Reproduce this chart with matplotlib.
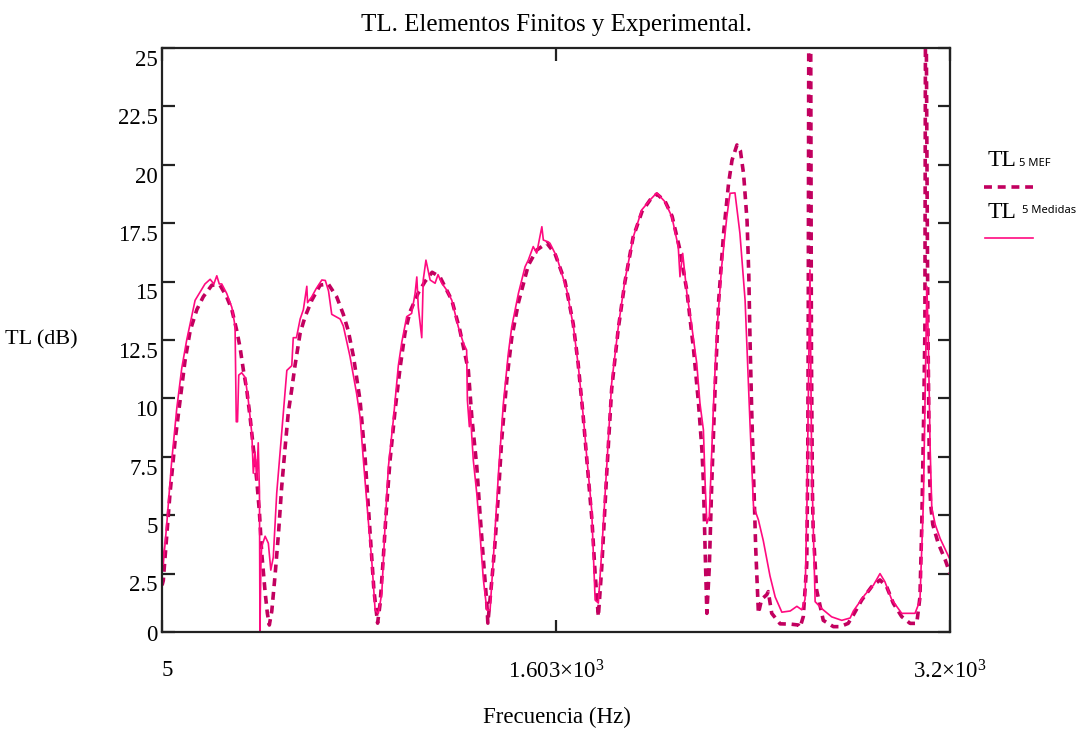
import matplotlib
matplotlib.use('Agg')
import matplotlib.pyplot as plt
import matplotlib.transforms as mtransforms
from matplotlib.lines import Line2D

# TL 5 MEF (finite elements), Hz / dB
freq_mef = [5, 10, 24, 37, 58, 78, 98, 119, 146, 172, 207, 240, 267, 288, 308, 321,
            335, 348, 362, 375, 389, 400, 409, 423, 432, 440, 450, 463, 477, 490, 504,
            517, 531, 544, 565, 585, 612, 646, 679, 713, 740, 760, 781, 794, 808, 828,
            848, 864, 879, 889, 901, 913, 929, 950, 970, 990, 1010, 1043, 1071, 1100,
            1132, 1156, 1180, 1213, 1247, 1261, 1281, 1294, 1308, 1322, 1326, 1342,
            1355, 1369, 1382, 1403, 1423, 1450, 1470, 1490, 1524, 1565, 1598, 1639,
            1672, 1692, 1712, 1728, 1748, 1761, 1774, 1788, 1808, 1828, 1855, 1882,
            1915, 1951, 1984, 2011, 2044, 2073, 2105, 2133, 2160, 2180, 2194, 2200,
            2207, 2214, 2224, 2234, 2248, 2262, 2282, 2302, 2316, 2336, 2350, 2363,
            2377, 2384, 2389, 2396, 2404, 2412, 2423, 2436, 2457, 2463, 2477, 2511,
            2552, 2585, 2592, 2605, 2619, 2623, 2625, 2628, 2634, 2638, 2642, 2645,
            2659, 2686, 2727, 2754, 2787, 2808, 2842, 2882, 2916, 2943, 2970, 3004,
            3038, 3065, 3078, 3085, 3092, 3098, 3101, 3104, 3106, 3108, 3110, 3113,
            3116, 3121, 3130, 3152, 3180, 3200]
tl_mef = [2.0, 2.2, 4.1, 5.9, 8.2, 9.9, 11.6, 12.9, 13.8, 14.35, 14.85, 14.85, 14.35,
          13.8, 12.9, 12.2, 11.2, 10.4, 9.2, 7.9, 6.5, 5.1, 3.4, 1.7, 0.8, 0.3, 0.9,
          2.4, 4.2, 6.2, 7.9, 9.4, 10.4, 11.4, 12.8, 13.5, 14.2, 14.85, 14.9, 14.35,
          13.6, 12.9, 11.8, 10.9, 9.9, 7.5, 4.3, 1.8, 0.38, 1.2, 3.0, 5.0, 7.3, 9.5,
          11.3, 12.8, 13.7, 14.5, 15.0, 15.4, 15.2, 14.7, 14.2, 12.9, 11.2, 9.2, 7.1,
          5.1, 3.1, 1.2, 0.38, 2.2, 3.8, 5.9, 8.2, 10.8, 12.6, 14.1, 14.9, 15.7, 16.35,
          16.65, 16.2, 15.0, 13.2, 11.5, 9.3, 7.3, 4.8, 2.5, 0.66, 2.8, 6.8, 10.4,
          13.0, 15.0, 16.9, 18.0, 18.5, 18.75, 18.45, 17.8, 16.35, 14.6, 12.1, 9.8,
          7.8, 6.4, 3.5, 0.8, 2.8, 6.4, 10.6, 14.2, 17.1, 19.2, 20.2, 20.85, 20.6,
          19.6, 17.6, 15.3, 12.5, 9.4, 6.5, 3.6, 0.8, 1.4, 1.6, 1.73, 0.8, 0.35, 0.34,
          0.3, 0.2, 0.66, 2.9, 7.2, 12.9, 30, 30, 12.0, 6.0, 4.4, 1.8, 0.5, 0.23,
          0.23, 0.37, 0.73, 1.37, 1.94, 2.23, 1.94, 1.23, 0.66, 0.37, 0.37, 1.5, 4.4,
          8.6, 12.9, 30, 25.0, 20.5, 17.0, 13.5, 10.0, 7.0, 5.5, 4.6, 3.8, 3.1, 2.5]

# TL 5 Medidas (measured), Hz / dB
freq_med = [5, 10, 24, 44, 65, 85, 105, 139, 179, 200, 215, 227, 237, 247, 267, 288,
            301, 306, 311, 316, 328, 342, 355, 369, 375, 382, 389, 395, 400, 402, 406,
            409, 423, 436, 446, 456, 470, 490, 511, 531, 537, 550, 565, 578, 592, 595,
            612, 630, 653, 667, 680, 693, 727, 740, 767, 794, 808, 821, 841, 855, 869,
            882, 896, 909, 923, 943, 963, 977, 997, 1017, 1031, 1038, 1044, 1058, 1064,
            1075, 1092, 1112, 1124, 1139, 1159, 1180, 1206, 1227, 1240, 1243, 1251,
            1254, 1261, 1267, 1281, 1294, 1308, 1322, 1335, 1348, 1369, 1389, 1409,
            1423, 1450, 1477, 1490, 1510, 1524, 1545, 1551, 1571, 1578, 1605, 1646,
            1673, 1693, 1713, 1727, 1747, 1761, 1774, 1788, 1808, 1828, 1855, 1882,
            1916, 1950, 1984, 2011, 2044, 2072, 2098, 2105, 2116, 2126, 2133, 2153,
            2173, 2186, 2200, 2207, 2214, 2224, 2240, 2254, 2274, 2295, 2308, 2328,
            2348, 2369, 2389, 2403, 2423, 2443, 2470, 2491, 2518, 2552, 2579, 2599,
            2612, 2620, 2632, 2639, 2653, 2680, 2720, 2761, 2795, 2808, 2855, 2889,
            2916, 2936, 2963, 3004, 3058, 3078, 3092, 3106, 3112, 3119, 3126, 3140,
            3160, 3200]
tl_med = [4.0, 2.9, 4.6, 7.3, 9.6, 11.3, 12.5, 14.2, 14.9, 15.1, 14.9, 15.25, 14.9,
          14.9, 14.5, 13.9, 13.1, 9.0, 9.0, 11.0, 11.1, 10.9, 9.9, 8.5, 6.8, 7.7, 6.5,
          8.1, 6.0, 0.05, 3.0, 3.65, 4.1, 3.8, 2.65, 3.2, 5.95, 8.5, 11.2, 11.4, 12.6,
          12.6, 13.4, 13.8, 14.8, 14.1, 14.35, 14.7, 15.07, 15.05, 14.6, 13.6, 13.4,
          13.1, 11.8, 10.2, 9.2, 7.4, 4.8, 3.1, 0.94, 0.8, 1.66, 4.5, 7.1, 9.1, 11.4,
          12.4, 13.5, 13.64, 14.5, 15.2, 13.9, 12.6, 15.07, 15.92, 15.07, 14.93, 15.3,
          14.94, 14.64, 14.2, 13.07, 12.36, 12.07, 9.93, 8.79, 9.65, 8.36, 7.36, 5.94,
          4.22, 2.23, 0.94, 0.94, 3.08, 6.79, 9.79, 11.93, 13.07, 14.5, 15.64, 15.92,
          16.5, 16.22, 17.35, 16.78, 16.7, 16.64, 16.07, 14.64, 13.07, 11.36, 9.22,
          7.5, 5.22, 1.37, 1.24, 3.51, 7.08, 10.65, 13.07, 15.07, 16.92, 18.07, 18.5,
          18.8, 18.42, 17.78, 16.5, 15.21, 16.21, 15.2, 14.5, 13.07, 11.5, 9.79, 8.65,
          6.37, 4.65, 4.94, 9.5, 12.79, 15.64, 17.78, 18.78, 18.8, 17.07, 14.2, 8.9,
          5.4, 4.8, 3.9, 2.4, 1.5, 0.85, 0.9, 1.1, 0.95, 1.4, 5.6, 15.5, 7.2, 1.3, 1.0,
          0.65, 0.5, 0.6, 0.9, 1.6, 2.0, 2.5, 2.15, 1.4, 0.8, 0.8, 1.35, 5.6, 14.8,
          12.5, 8.0, 5.3, 4.6, 4.0, 3.1]

y_ticks = [0, 2.5, 5, 7.5, 10, 12.5, 15, 17.5, 20, 22.5, 25]
y_tick_labels = ['0', '2.5', '5', '7.5', '10', '12.5', '15', '17.5', '20', '22.5', '25']
x_ticks = [5, 1602.5, 3200]
x_tick_labels = ['5', r'$1.603{\times}10^{3}$', r'$3.2{\times}10^{3}$']

MEF_COLOR = '#C2005F'
MED_COLOR = '#FF0A80'
SERIF = 'Liberation Serif'


def main():
    plt.rcParams['font.family'] = SERIF
    plt.rcParams['mathtext.fontset'] = 'custom'
    plt.rcParams['mathtext.rm'] = SERIF
    plt.rcParams['mathtext.it'] = SERIF
    plt.rcParams['mathtext.default'] = 'regular'
    fig = plt.figure(figsize=(10.89, 7.31), dpi=100)
    ax = fig.add_axes([0.1488, 0.1354, 0.7236, 0.7989])

    ax.plot(freq_mef, tl_mef, color=MEF_COLOR, lw=2.6, ls=(0, (2.2, 1.6)))
    ax.plot(freq_med, tl_med, color=MED_COLOR, lw=1.2)

    ax.set_xlim(5, 3200)
    ax.set_ylim(0, 25)

    for s in ax.spines.values():
        s.set_linewidth(1.6)
        s.set_color('#222222')

    ax.set_yticks(y_ticks)
    ax.set_yticklabels(y_tick_labels, fontsize=16.5)
    ax.tick_params(axis='y', direction='in', length=9, width=1.6, pad=3,
                   right=True, colors='#222222', labelcolor='black')
    ax.set_xticks(x_ticks)
    ax.set_xticklabels(x_tick_labels, fontsize=16.5)
    ax.tick_params(axis='x', direction='in', length=9, width=1.6, pad=20,
                   top=True, colors='#222222', labelcolor='black')

    # Mathcad puts the y labels slightly below their ticks
    for lbl in ax.get_yticklabels():
        dy = -1 / 72 if lbl.get_text() == '0' else -7 / 72
        lbl.set_transform(lbl.get_transform() +
                          mtransforms.ScaledTranslation(0, dy, fig.dpi_scale_trans))
    xl = ax.get_xticklabels()
    xl[0].set_ha('left')

    fig.text(0.511, 0.966, 'TL. Elementos Finitos y Experimental.', ha='center',
             va='center', fontsize=18)
    fig.text(0.511, 0.019, 'Frecuencia (Hz)', ha='center', va='center', fontsize=16.5)
    fig.text(0.038, 0.535, 'TL (dB)', ha='center', va='center', fontsize=16)

    # legend to the right, Mathcad style
    W, H = 1089, 731
    fig.text(988 / W, 1 - 161 / H, 'TL', ha='left', va='center', fontsize=17)
    fig.text(1019 / W, 1 - 163 / H, '5 MEF', ha='left', va='center', fontsize=8,
             family='Noto Sans')
    fig.add_artist(Line2D([984 / W, 1033 / W], [1 - 187 / H, 1 - 187 / H],
                          color=MEF_COLOR, lw=2.6, ls=(0, (2.2, 1.6))))
    fig.text(988 / W, 1 - 213 / H, 'TL', ha='left', va='center', fontsize=17)
    fig.text(1022 / W, 1 - 210 / H, '5 Medidas', ha='left', va='center', fontsize=8,
             family='Noto Sans')
    fig.add_artist(Line2D([985 / W, 1033 / W], [1 - 238 / H, 1 - 238 / H],
                          color=MED_COLOR, lw=1.2))

    fig.savefig('out.png', dpi=100)


if __name__ == '__main__':
    main()
